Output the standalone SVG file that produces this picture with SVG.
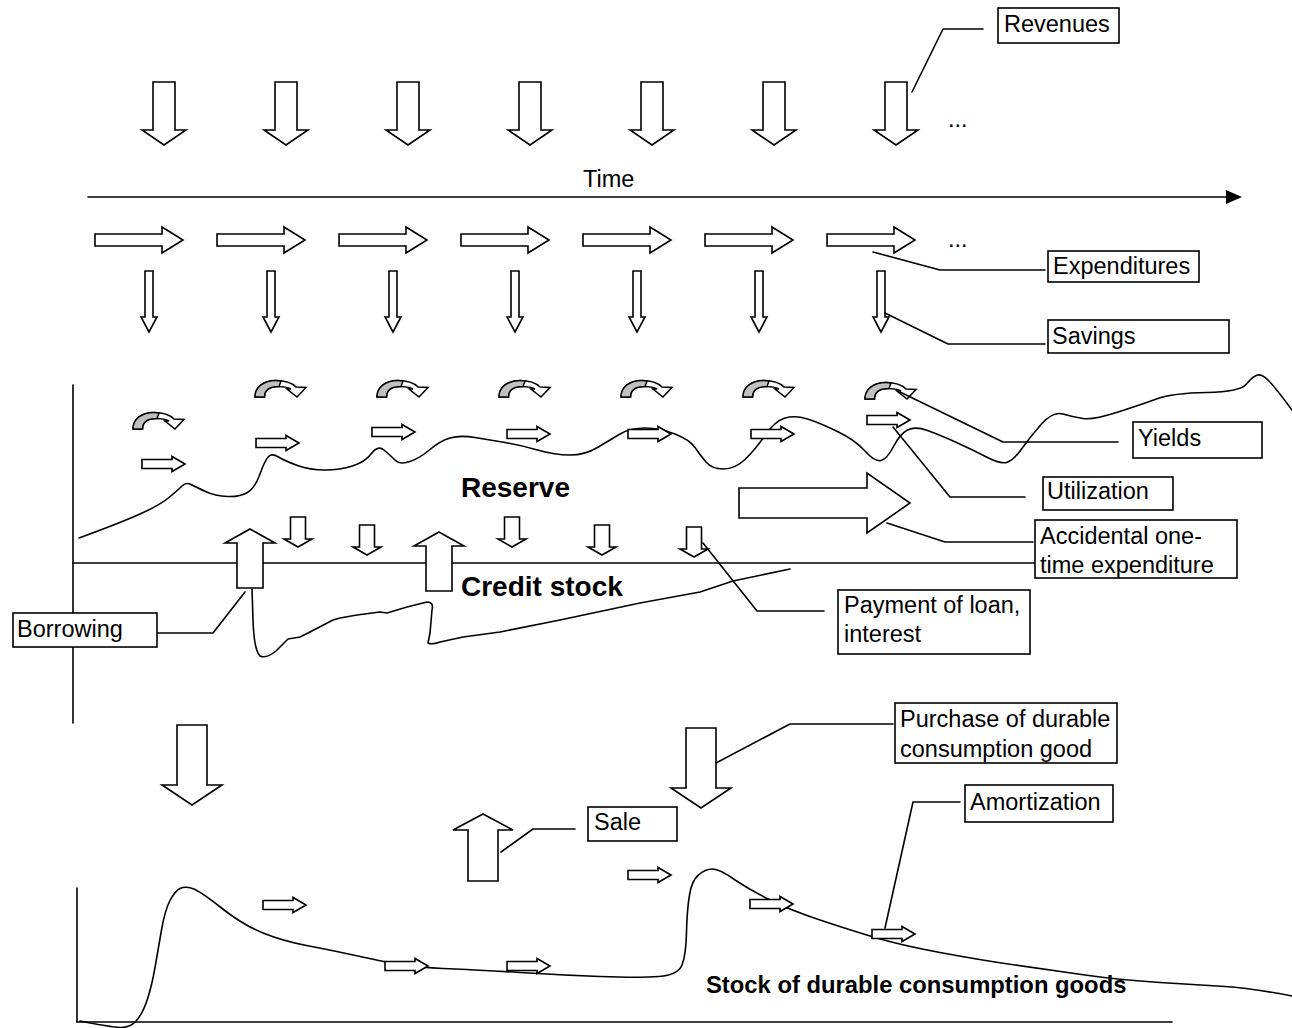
<svg xmlns="http://www.w3.org/2000/svg" width="1292" height="1028" viewBox="0 0 1292 1028">
  <style>
    .shape { fill: #fff; stroke: #000; stroke-width: 1.6; stroke-linejoin: miter; }
    .gray { fill: #c0c0c0; stroke: #000; stroke-width: 1.4; }
    .line { fill: none; stroke: #000; stroke-width: 1.6; stroke-linejoin: round; stroke-linecap: round; }
    .box { fill: #fff; stroke: #000; stroke-width: 1.6; }
    .lbl { font-family: "Liberation Sans", Arial, sans-serif; font-size: 23.5px; fill: #000; }
    .bold { font-family: "Liberation Sans", Arial, sans-serif; font-weight: bold; fill: #000; }
  </style>
  <defs>
    <!-- big downward block arrow (revenues) -->
    <path id="revArrow" class="shape" d="M-11,0 H11 V48 H22 L0,63 L-22,48 H-11 Z"/>
    <!-- right block arrow (expenditures) -->
    <path id="expArrow" class="shape" d="M0,-6 H67 V-13 L88,0 L67,13 V6 H0 Z"/>
    <!-- thin downward arrow (savings) -->
    <path id="savArrow" class="shape" d="M-4,0 H4 V46 H8 L0,61 L-8,46 H-4 Z"/>
    <!-- small right arrow (utilization / amortization) -->
    <path id="smallArrow" class="shape" d="M0,-4.5 H30 V-7.5 L43,0 L30,7.5 V4.5 H0 Z"/>
    <!-- small downward arrow (loan payments) -->
    <path id="payArrow" class="shape" d="M-7.5,0 H7.5 V22 H14 L0,30 L-14,22 H-7.5 Z"/>
    <!-- upward block arrow (borrowing) -->
    <path id="borArrow" class="shape" d="M0,0 L25,14 H13 V59 H-13 V14 H-25 Z"/>
    <!-- large downward block arrow (durable goods) -->
    <path id="bigDown" class="shape" d="M-15,0 H15 V60 H30 L0,80 L-30,60 H-15 Z"/>
    <!-- curved arrow (yields) -->
    <g id="curvArrow">
      <path class="shape" stroke-width="1.4" d="M0,17 C0,7 9,0.5 21,0.5 C30,0.5 37,3 41,7 L51,7.5 L42,17 L32,9 L36,9 C32,7 28,6.5 23,6.5 C14,6.5 9.5,10.5 9.5,17 Z"/>
      <path class="gray" d="M0,17 C0,7 9,0.5 21,0.5 C23,0.5 25,0.7 26,1 L24,6.5 C14,6.5 9.5,10.5 9.5,17 Z"/>
    </g>
  </defs>

  <!-- time axis -->
  <g id="time-axis">
    <line class="line" x1="88" y1="197" x2="1228" y2="197"/>
    <path d="M1226,190 L1242,197 L1226,204 Z" fill="#000"/>
    <text class="lbl" x="583" y="187" font-size="22">Time</text>
  </g>

  <!-- revenue arrows -->
  <g id="revenues-flow">
    <use href="#revArrow" transform="translate(164,82)"/>
    <use href="#revArrow" transform="translate(286,82)"/>
    <use href="#revArrow" transform="translate(408,82)"/>
    <use href="#revArrow" transform="translate(530,82)"/>
    <use href="#revArrow" transform="translate(652,82)"/>
    <use href="#revArrow" transform="translate(774,82)"/>
    <use href="#revArrow" transform="translate(896,82)"/>
    <text class="lbl" x="948" y="127">...</text>
  </g>

  <!-- expenditure arrows -->
  <g id="expenditures-flow">
    <use href="#expArrow" transform="translate(95,240)"/>
    <use href="#expArrow" transform="translate(217,240)"/>
    <use href="#expArrow" transform="translate(339,240)"/>
    <use href="#expArrow" transform="translate(461,240)"/>
    <use href="#expArrow" transform="translate(583,240)"/>
    <use href="#expArrow" transform="translate(705,240)"/>
    <use href="#expArrow" transform="translate(827,240)"/>
    <text class="lbl" x="948" y="247">...</text>
  </g>

  <!-- savings arrows -->
  <g id="savings-flow">
    <use href="#savArrow" transform="translate(149,271)"/>
    <use href="#savArrow" transform="translate(271,271)"/>
    <use href="#savArrow" transform="translate(393,271)"/>
    <use href="#savArrow" transform="translate(515,271)"/>
    <use href="#savArrow" transform="translate(637,271)"/>
    <use href="#savArrow" transform="translate(759,271)"/>
    <use href="#savArrow" transform="translate(881,271)"/>
  </g>

  <!-- reserve / credit axes -->
  <g id="reserve-axes">
    <line class="line" x1="73" y1="385" x2="73" y2="723"/>
    <line class="line" x1="73" y1="563" x2="1035" y2="563"/>
  </g>

  <!-- reserve level curve -->
  <g id="reserve-curve">
    <path class="line" d="M79,538 Q120,523 140,514 Q160,505 169,497.5 Q178,490 182,486 Q186,482 191,484.5 Q196,487 205.5,491.5 Q215,496 227.5,496.5 Q240,497 247.5,492.5 Q255,488 260,474 Q265,460 268.5,456.5 Q272,453 278.5,457 Q285,461 297.5,465.5 Q310,470 325,470 Q340,470 352.5,466 Q365,462 371.5,453.5 Q378,445 384,450 Q390,455 395,460 Q400,465 410,461.5 Q420,458 430,449.5 Q440,441 450,438 Q460,435 475,437.5 Q490,440 505,442.5 Q520,445 537.5,450 Q555,455 570,455 Q585,455 597.5,447.5 Q610,440 620,434 Q630,428 645,428 Q660,428 675,434 Q690,440 695,447.5 Q700,455 706,462 Q712,469 723.5,469 Q735,469 745,459.5 Q755,450 765,435.5 Q775,421 785,418 Q795,415 807.5,419 Q820,423 837.5,431.5 Q855,440 865,451 Q875,462 881,460.5 Q887,459 893.5,446.5 Q900,434 907.5,430 Q915,426 927.5,430.5 Q940,435 956.5,442.5 Q973,450 986.5,457 Q1000,464 1006.5,462.5 Q1013,461 1021.5,449 Q1030,437 1041.5,424 Q1053,411 1063,414 Q1073,417 1083,418.5 Q1093,420 1116.5,412.5 Q1140,405 1156.5,399 Q1173,393 1206.5,392.5 Q1240,392 1246.5,384 Q1253,376 1257.5,375 Q1262,374 1268.5,380.5 Q1275,387 1292,410"/>
    <text class="bold" x="461" y="497" font-size="28">Reserve</text>
  </g>

  <!-- yields (curved) and utilization (small) arrows -->
  <g id="yields-flow">
    <use href="#curvArrow" transform="translate(133,412)"/>
    <use href="#curvArrow" transform="translate(255,380)"/>
    <use href="#curvArrow" transform="translate(377,380)"/>
    <use href="#curvArrow" transform="translate(499,380)"/>
    <use href="#curvArrow" transform="translate(621,380)"/>
    <use href="#curvArrow" transform="translate(743,380)"/>
    <use href="#curvArrow" transform="translate(865,382)"/>
  </g>
  <g id="utilization-flow">
    <use href="#smallArrow" transform="translate(142,464)"/>
    <use href="#smallArrow" transform="translate(256,443)"/>
    <use href="#smallArrow" transform="translate(372,432)"/>
    <use href="#smallArrow" transform="translate(507,434)"/>
    <use href="#smallArrow" transform="translate(628,434)"/>
    <use href="#smallArrow" transform="translate(751,434)"/>
    <use href="#smallArrow" transform="translate(867,420)"/>
  </g>

  <!-- accidental one-time expenditure -->
  <g id="accidental-arrow">
    <path class="shape" d="M739,488 H867 V473 L910,503 L867,533 V518 H739 Z"/>
  </g>

  <!-- credit stock curve -->
  <g id="credit-curve">
    <path class="line" d="M252,589 L253,620 Q254,650 260,656 Q266,659 276,651 L283,644 L288,639 L300,637 L310,632 L333,620 L340,618 L357,615 L380,612 L387,613 L407,607 L427,602 Q434,602 432,610 L430,633 L428,643 Q432,645 440,642 L463,637 L500,632 L560,620 L640,603 L700,592 L733,581 L790,569"/>
    <text class="bold" x="461" y="596" font-size="28">Credit stock</text>
  </g>

  <!-- borrowing and loan payment arrows -->
  <g id="borrowing-flow">
    <use href="#borArrow" transform="translate(250,529)"/>
    <use href="#borArrow" transform="translate(439,532)"/>
  </g>
  <g id="payment-flow">
    <use href="#payArrow" transform="translate(298,517)"/>
    <use href="#payArrow" transform="translate(367,525)"/>
    <use href="#payArrow" transform="translate(512,517)"/>
    <use href="#payArrow" transform="translate(602,525)"/>
    <use href="#payArrow" transform="translate(694,527)"/>
  </g>

  <!-- durable goods section -->
  <g id="durable-axes">
    <line class="line" x1="77" y1="888" x2="77" y2="1022"/>
    <line class="line" x1="77" y1="1022" x2="1172" y2="1022"/>
  </g>
  <g id="durable-curve">
    <path class="line" d="M80,1021 Q110,1027 120,1027.5 Q130,1028 136.5,1020.5 Q143,1013 147.5,999 Q152,985 155,967.5 Q158,950 161.5,930 Q165,910 170,900.5 Q175,891 180,888.5 Q185,886 192.5,888.5 Q200,891 221.5,908 Q243,925 263,933 Q283,941 306.5,945.5 Q330,950 348.5,954 Q367,958 383.5,961.5 Q400,965 415,966.5 Q430,968 455,969 Q480,970 520,972.5 Q560,975 600,976.5 Q640,978 659,976.5 Q678,975 682,965 Q686,955 686.5,932.5 Q687,910 689.5,895 Q692,880 698.5,875 Q705,869 712.5,869 Q720,869 735,880 Q750,890 770,900 Q790,910 820,920 Q850,930 875,937.5 Q900,945 940,952.5 Q980,960 1015,965 Q1050,970 1085,975 Q1120,980 1160,982.5 Q1200,985 1225,986.5 Q1250,988 1292,996"/>
    <text class="bold" x="706" y="993" font-size="23.8">Stock of durable consumption goods</text>
  </g>
  <g id="durable-flow">
    <use href="#bigDown" transform="translate(192,725)"/>
    <use href="#bigDown" transform="translate(701,728)"/>
    <path class="shape" d="M483,814 L513,830 H498 V881 H468 V830 H453 Z"/>
    <use href="#smallArrow" transform="translate(263,905)"/>
    <use href="#smallArrow" transform="translate(628,875)"/>
    <use href="#smallArrow" transform="translate(385,966)"/>
    <use href="#smallArrow" transform="translate(507,966)"/>
    <use href="#smallArrow" transform="translate(750,904)"/>
    <use href="#smallArrow" transform="translate(872,934)"/>
  </g>

  <!-- leader lines from labels -->
  <g id="connectors">
    <path class="line" d="M912,92 L943,29 L983,29"/>
    <path class="line" d="M873,252 L940,270 L1045,270"/>
    <path class="line" d="M885,313 L948,344 L1045,344"/>
    <path class="line" d="M900,392 L1003,442 L1118,442"/>
    <path class="line" d="M893,427 L950,497 L1025,497"/>
    <path class="line" d="M887,523 L945,542 L1033,542"/>
    <path class="line" d="M703,543 L757,611 L824,611"/>
    <path class="line" d="M157,633 L213,633 L245,592"/>
    <path class="line" d="M716,763 L790,724 L893,724"/>
    <path class="line" d="M501,852 L533,829 L575,829"/>
    <path class="line" d="M885,928 L913,802 L960,802"/>
  </g>

  <!-- labels -->
  <g id="label-revenues">
    <rect class="box" x="998" y="8" width="121" height="35"/>
    <text class="lbl" x="1004" y="32">Revenues</text>
  </g>
  <g id="label-expenditures">
    <rect class="box" x="1048" y="251" width="151" height="31"/>
    <text class="lbl" x="1053" y="274">Expenditures</text>
  </g>
  <g id="label-savings">
    <rect class="box" x="1048" y="320" width="181" height="33"/>
    <text class="lbl" x="1052" y="344">Savings</text>
  </g>
  <g id="label-yields">
    <rect class="box" x="1133" y="422" width="129" height="36"/>
    <text class="lbl" x="1138" y="446">Yields</text>
  </g>
  <g id="label-utilization">
    <rect class="box" x="1043" y="477" width="130" height="33"/>
    <text class="lbl" x="1047" y="499">Utilization</text>
  </g>
  <g id="label-accidental">
    <rect class="box" x="1035" y="520" width="202" height="58"/>
    <text class="lbl" x="1040" y="544">Accidental one-</text>
    <text class="lbl" x="1040" y="573">time expenditure</text>
  </g>
  <g id="label-payment">
    <rect class="box" x="838" y="590" width="192" height="64"/>
    <text class="lbl" x="844" y="613">Payment of loan,</text>
    <text class="lbl" x="844" y="642">interest</text>
  </g>
  <g id="label-borrowing">
    <rect class="box" x="13" y="613" width="144" height="34"/>
    <text class="lbl" x="17" y="637">Borrowing</text>
  </g>
  <g id="label-purchase">
    <rect class="box" x="895" y="703" width="222" height="60"/>
    <text class="lbl" x="900" y="727">Purchase of durable</text>
    <text class="lbl" x="900" y="757">consumption good</text>
  </g>
  <g id="label-sale">
    <rect class="box" x="588" y="807" width="89" height="34"/>
    <text class="lbl" x="594" y="830">Sale</text>
  </g>
  <g id="label-amortization">
    <rect class="box" x="965" y="785" width="148" height="37"/>
    <text class="lbl" x="970" y="810">Amortization</text>
  </g>
</svg>
